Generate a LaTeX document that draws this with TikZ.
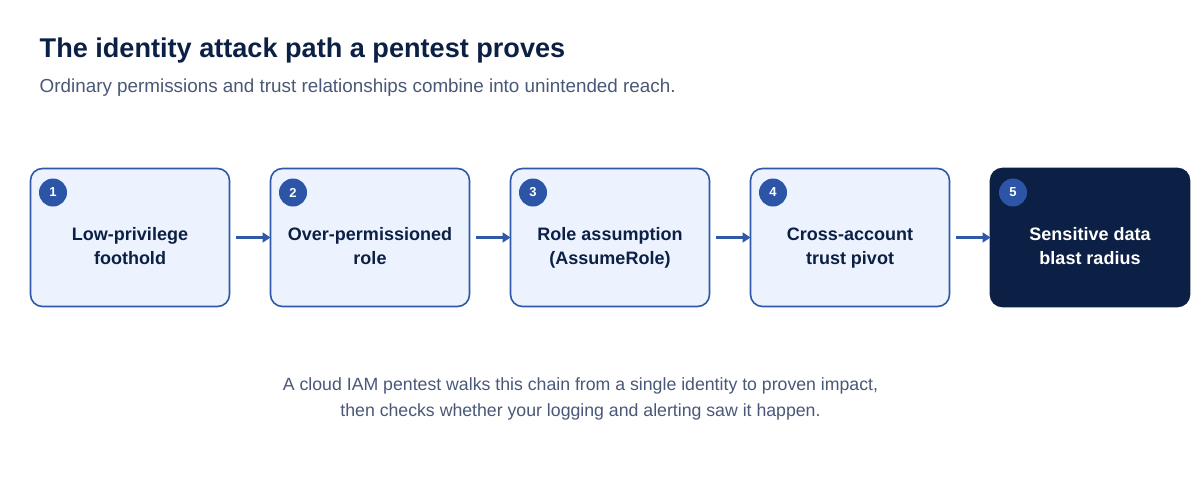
\documentclass[tikz,border=0pt]{standalone}
\usepackage{fontspec}
\setmainfont{Liberation Sans}
\usetikzlibrary{arrows.meta}
\definecolor{navy}{HTML}{0C1F44}
\definecolor{boxblue}{HTML}{2F58A8}
\definecolor{boxfill}{HTML}{ECF3FE}
\definecolor{subgray}{HTML}{4A5878}
\definecolor{badge}{HTML}{2C55A8}
\tikzset{
  stepbox/.style={draw=boxblue, line width=1.6pt, fill=boxfill, rounded corners=12pt,
    minimum width=199pt, minimum height=138pt, inner sep=0pt, outer sep=0pt},
  darkbox/.style={stepbox, draw=navy, fill=navy},
  label/.style={text=navy, align=center, font=\fontsize{18}{24}\selectfont\bfseries},
  badgec/.style={circle, fill=badge, minimum size=28pt, inner sep=0pt, text=white,
    font=\fontsize{13}{13}\selectfont\bfseries},
  flow/.style={draw=boxblue, line width=2.2pt, -{Triangle[length=8pt,width=10pt]}}
}
\begin{document}
\begin{tikzpicture}[x=1pt,y=-1pt]
\useasboundingbox[fill=white] (0,0) rectangle (1200,480);
\node[anchor=base west, inner sep=0pt, text=navy, font=\fontsize{27.1}{30}\selectfont\bfseries] (title) at (39.5,57) {The identity attack path a pentest proves};
\node[anchor=base west, inner sep=0pt, text=subgray, font=\fontsize{18.85}{20}\selectfont] (sub) at (39.5,92) {Ordinary permissions and trust relationships combine into unintended reach.};

\node[stepbox] (b1) at (130,237.5) {};
\node[stepbox] (b2) at (370,237.5) {};
\node[stepbox] (b3) at (610,237.5) {};
\node[stepbox] (b4) at (850,237.5) {};
\node[darkbox] (b5) at (1090,237.5) {};

\node[label] (t1) at (130,248) {\strut Low-privilege\\foothold\strut};
\node[label] (t2) at (370,248) {\strut Over-permissioned\\role\strut};
\node[label] (t3) at (610,248) {\strut Role assumption\\(AssumeRole)\strut};
\node[label] (t4) at (850,248) {\strut Cross-account\\trust pivot\strut};
\node[label, text=white] (t5) at (1090,248) {\strut Sensitive data\\blast radius\strut};

\foreach \i/\x in {1/53,2/293,3/533,4/773,5/1013}{
  \node[badgec] (n\i) at (\x,192.5) {\i};
}

\draw[flow] ([xshift=6pt]b1.east) -- (b2.west);
\draw[flow] ([xshift=6pt]b2.east) -- (b3.west);
\draw[flow] ([xshift=6pt]b3.east) -- (b4.west);
\draw[flow] ([xshift=6pt]b4.east) -- (b5.west);

\node[align=center, text=subgray, font=\fontsize{17.7}{26}\selectfont] (foot) at (580.5,399) {A cloud IAM pentest walks this chain from a single identity to proven impact,\\then checks whether your logging and alerting saw it happen.};
\end{tikzpicture}
\end{document}
